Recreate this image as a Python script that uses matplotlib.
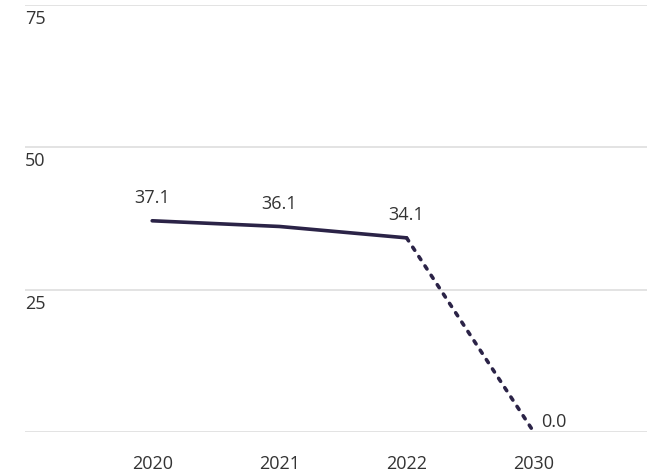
import matplotlib
matplotlib.use("Agg")
import matplotlib.pyplot as plt
import matplotlib.transforms as mtransforms

plt.rcParams['font.family'] = ['Open Sans', 'DejaVu Sans']

categories = ["2020", "2021", "2022", "2030"]
values = [37.1, 36.1, 34.1, 0.0]
value_labels = ["37.1", "36.1", "34.1", "0.0"]
y_ticks = [0, 25, 50, 75]
y_tick_labels = ["", "25", "50", "75"]

line_color = "#2b2347"
text_color = "#333333"
grid_color = "#e3e3e3"
fs = 13

fig = plt.figure(figsize=(6.55, 4.74), dpi=100)
ax = fig.add_axes([25/655, 1-432/474, (647-25)/655, (432-5)/474])

x = list(range(len(categories)))
ax.plot(x[:3], values[:3], color=line_color, lw=2.6, solid_capstyle='round',
        solid_joinstyle='round', zorder=3)
ax.plot(x[2:], values[2:], color=line_color, lw=2.6, linestyle=(0, (1.0, 2.1)),
        dash_capstyle='round', zorder=3)

ax.set_ylim(0, 75)
ax.set_xlim(-1, 3.89)
ax.set_yticks(y_ticks)
ax.set_yticklabels([])
ax.tick_params(axis='y', length=0)
ax.set_xticks(x)
ax.set_xticklabels(categories, fontsize=fs, color=text_color)
ax.tick_params(axis='x', length=0, pad=16.5)
for yv in y_ticks:
    ax.axhline(yv, color=grid_color, lw=1.4, zorder=1)
for s in ax.spines.values():
    s.set_visible(False)

trans = mtransforms.blended_transform_factory(ax.transAxes, ax.transData)
offset = mtransforms.ScaledTranslation(0, -5/100, fig.dpi_scale_trans)
for yv, lab in zip(y_ticks, y_tick_labels):
    if lab:
        ax.text(0, yv, lab, transform=trans + offset, ha='left', va='top',
                fontsize=fs, color=text_color)

for i, (v, lab) in enumerate(zip(values, value_labels)):
    if i == len(values) - 1:
        ax.annotate(lab, (i, v), xytext=(5, 0.5), textcoords='offset points',
                    ha='left', va='bottom', fontsize=fs, color=text_color)
    else:
        ax.annotate(lab, (i, v), xytext=(0, 10), textcoords='offset points',
                    ha='center', va='bottom', fontsize=fs, color=text_color)

fig.savefig("out.png", dpi=100)
